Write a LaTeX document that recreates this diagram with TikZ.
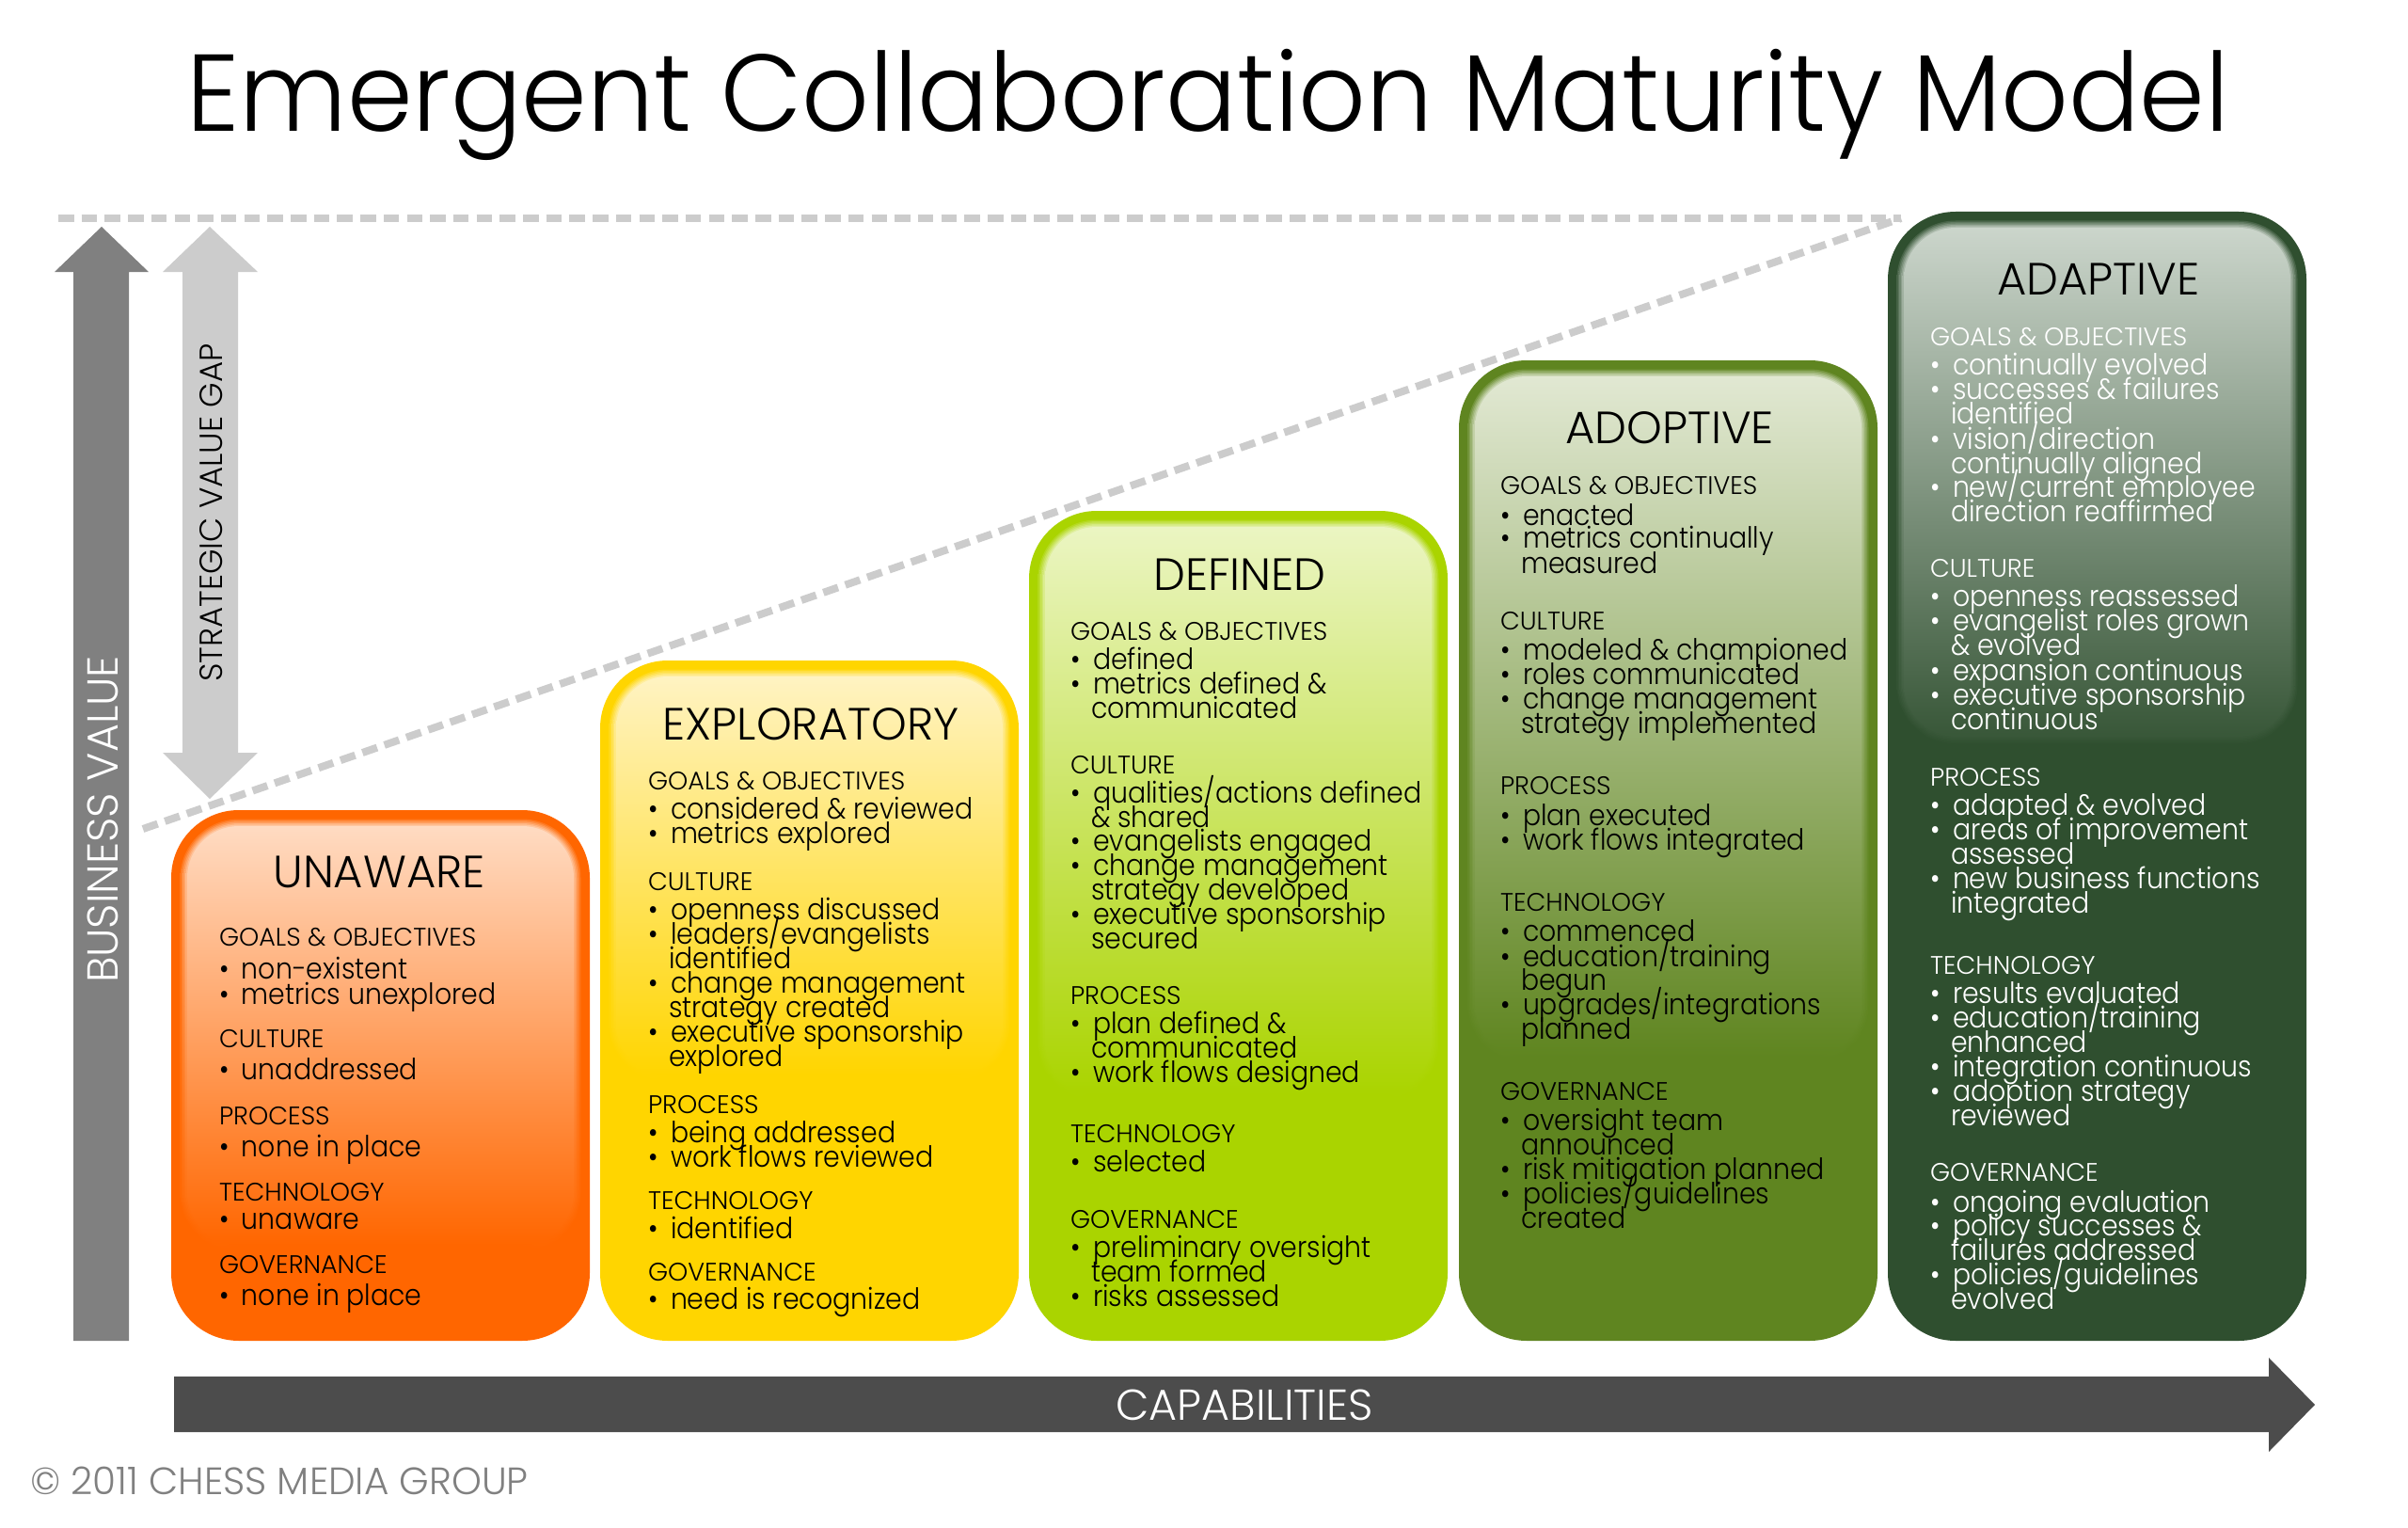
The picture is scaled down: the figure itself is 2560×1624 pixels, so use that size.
\documentclass[tikz,border=0pt]{standalone}
\usepackage{fontspec}
\setmainfont{Poppins}
\newfontfamily\gf{Poppins Light}
\newfontfamily\tf{Poppins Light}[FakeStretch=0.966]
\newfontfamily\bdf{Poppins Light}[FakeStretch=0.915]
\newcounter{ln}
\newcommand\Txt[4]{\stepcounter{ln}\node[#1] (line\arabic{ln}) at (#2,#3) {#4};}
\newcommand\Hd[2]{\Txt{headtxt,text=\tc}{\hx}{#1}{#2}}
\newcommand\Bl[2]{\Txt{bodytxt,text=\tc}{\hx}{#1+1.5}{\makebox[24pt][l]{•}#2}}
\newcommand\Co[2]{\Txt{bodytxt,text=\tc}{\hx}{#1+1.5}{\hspace*{22pt}#2}}
\newcommand\Card[8]{%
  % #1 x1, #2 y1, #3 x2, #4 y2, #5 base, #6 light, #7 gloss bottom, #8 end mix
  \fill[#5,rounded corners=72pt] (#1,#2) rectangle (#3,#4);
  \foreach \i in {1,...,6}{
    \pgfmathsetmacro\ins{8+\i*1.5}
    \pgfmathsetmacro\kk{\i*100/6}
    \pgfmathsetmacro\rr{72-\ins}
    \colorlet{tmpa}{#6!\kk!#5}
    \pgfmathsetmacro\ee{#8*\kk/100}
    \colorlet{tmpb}{#6!\ee!#5}
    \shade[top color=tmpa,bottom color=tmpb,rounded corners=\rr pt]
      (#1+\ins,#2+\ins) rectangle (#3-\ins,#7-\ins);
  }
}
\definecolor{cU}{HTML}{FF6600}\definecolor{lU}{HTML}{FFDBC2}
\definecolor{cE}{HTML}{FFD500}\definecolor{lE}{HTML}{FFF3C2}
\definecolor{cD}{HTML}{AAD400}\definecolor{lD}{HTML}{EBF5C2}
\definecolor{cO}{HTML}{5F8520}\definecolor{lO}{HTML}{E1E8D2}
\definecolor{cA}{HTML}{2F4F2F}\definecolor{lA}{HTML}{CBD5CB}
\definecolor{dashc}{HTML}{CCCCCC}
\begin{document}
\begin{tikzpicture}[x=1pt,y=-1pt,
  headtxt/.style={anchor=base west,inner sep=0pt,outer sep=0pt,font=\gf\fontsize{27}{27}\selectfont},
  bodytxt/.style={anchor=base west,inner sep=0pt,outer sep=0pt,font=\bdf\fontsize{31}{26}\selectfont},
  cardtitle/.style={anchor=base,inner sep=0pt,outer sep=0pt,text=black,font=\gf\fontsize{48}{48}\selectfont},
  dashline/.style={draw=dashc,line width=8pt,dash pattern=on 16.5pt off 8.2pt},
]
\useasboundingbox (0,0) rectangle (2560,1624);
\fill[white] (0,0) rectangle (2560,1624);

\node[anchor=base west,inner sep=0pt,font=\tf\fontsize{116}{116}\selectfont] (title) at (198,140) {Emergent Collaboration Maturity Model};

% arrows
\fill[black!50] (108,241) -- (158,289) -- (137,289) -- (137,1425) -- (78,1425) -- (78,289) -- (58,289) -- cycle;
\fill[dashc] (223,241) -- (274,289) -- (253,289) -- (253,800) -- (274,800) -- (223,849) -- (173,800) -- (194,800) -- (194,289) -- (173,289) -- cycle;
\fill[black!70] (185,1463) -- (2412,1463) -- (2412,1443) -- (2461,1493) -- (2412,1543) -- (2412,1522) -- (185,1522) -- cycle;

\coordinate (dl) at (62,232);
\coordinate (dr) at (2021,232);
\coordinate (ds) at (152,881);
\draw[dashline] (dl) -- (dr);
\draw[dashline] (ds) -- (dr);

\node[anchor=base,inner sep=0pt,rotate=90,text=white,font=\gf\fontsize{46}{46}\selectfont] (bv) at (125,871) {BUSINESS VALUE};
\node[anchor=base,inner sep=0pt,rotate=90,text=black,font=\gf\fontsize{34}{34}\selectfont] (svg) at (236,545) {STRATEGIC VALUE GAP};
\node[anchor=base,inner sep=0pt,text=white,font=\gf\fontsize{46}{46}\selectfont] (cap) at (1323,1509) {CAPABILITIES};
\node[anchor=base west,inner sep=0pt,text=black!50,font=\gf\fontsize{40.5}{40.5}\selectfont] (copy) at (32,1588) {© 2011 CHESS MEDIA GROUP};

% cards
\Card{182}{861}{627}{1425}{cU}{lU}{1340}{0}
\Card{638}{702}{1083}{1425}{cE}{lE}{1160}{0}
\Card{1094}{543}{1539}{1425}{cD}{lD}{1180}{0}
\Card{1551}{383}{1996}{1425}{cO}{lO}{1140}{0}
\Card{2007}{225}{2452}{1425}{cA}{lA}{800}{6}
\node[cardtitle] (unaware) at (403,943) {UNAWARE};
\node[cardtitle] (exploratory) at (862,786) {EXPLORATORY};
\node[cardtitle] (defined) at (1318,627) {DEFINED};
\node[cardtitle] (adoptive) at (1775,471) {ADOPTIVE};
\node[cardtitle] (adaptive) at (2231,313) {ADAPTIVE};

\def\tc{black}
\def\hx{233}
\Hd{1005}{GOALS \& OBJECTIVES}
\Bl{1039}{non-existent}
\Bl{1066}{metrics unexplored}
\Hd{1113}{CULTURE}
\Bl{1146}{unaddressed}
\Hd{1195}{PROCESS}
\Bl{1228}{none in place}
\Hd{1276}{TECHNOLOGY}
\Bl{1305}{unaware}
\Hd{1353}{GOVERNANCE}
\Bl{1386}{none in place}

\def\hx{689}
\Hd{839}{GOALS \& OBJECTIVES}
\Bl{869}{considered \& reviewed}
\Bl{895}{metrics explored}
\Hd{946}{CULTURE}
\Bl{976}{openness discussed}
\Bl{1002}{leaders/evangelists}
\Co{1028}{identified}
\Bl{1054}{change management}
\Co{1080}{strategy created}
\Bl{1106}{executive sponsorship}
\Co{1132}{explored}
\Hd{1183}{PROCESS}
\Bl{1213}{being addressed}
\Bl{1239}{work flows reviewed}
\Hd{1285}{TECHNOLOGY}
\Bl{1315}{identified}
\Hd{1361}{GOVERNANCE}
\Bl{1390}{need is recognized}

\def\hx{1138}
\Hd{680}{GOALS \& OBJECTIVES}
\Bl{710}{defined}
\Bl{736}{metrics defined \&}
\Co{762}{communicated}
\Hd{822}{CULTURE}
\Bl{852}{qualities/actions defined}
\Co{878}{\& shared}
\Bl{903}{evangelists engaged}
\Bl{929}{change management}
\Co{955}{strategy developed}
\Bl{981}{executive sponsorship}
\Co{1007}{secured}
\Hd{1067}{PROCESS}
\Bl{1097}{plan defined \&}
\Co{1123}{communicated}
\Bl{1149}{work flows designed}
\Hd{1214}{TECHNOLOGY}
\Bl{1244}{selected}
\Hd{1305}{GOVERNANCE}
\Bl{1335}{preliminary oversight}
\Co{1361}{team formed}
\Bl{1387}{risks assessed}

\def\hx{1595}
\Hd{525}{GOALS \& OBJECTIVES}
\Bl{557}{enacted}
\Bl{581}{metrics continually}
\Co{608}{measured}
\Hd{669}{CULTURE}
\Bl{700}{modeled \& championed}
\Bl{726}{roles communicated}
\Bl{752}{change management}
\Co{778}{strategy implemented}
\Hd{844}{PROCESS}
\Bl{876}{plan executed}
\Bl{902}{work flows integrated}
\Hd{968}{TECHNOLOGY}
\Bl{999}{commenced}
\Bl{1026}{education/training}
\Co{1051}{begun}
\Bl{1077}{upgrades/integrations}
\Co{1103}{planned}
\Hd{1169}{GOVERNANCE}
\Bl{1200}{oversight team}
\Co{1226}{announced}
\Bl{1252}{risk mitigation planned}
\Bl{1278}{policies/guidelines}
\Co{1304}{created}

\def\tc{white}
\def\hx{2052}
\Hd{367}{GOALS \& OBJECTIVES}
\Bl{397}{continually evolved}
\Bl{423}{successes \& failures}
\Co{449}{identified}
\Bl{476}{vision/direction}
\Co{502}{continually aligned}
\Bl{527}{new/current employee}
\Co{553}{direction reaffirmed}
\Hd{613}{CULTURE}
\Bl{643}{openness reassessed}
\Bl{669}{evangelist roles grown}
\Co{695}{\& evolved}
\Bl{722}{expansion continuous}
\Bl{748}{executive sponsorship}
\Co{774}{continuous}
\Hd{835}{PROCESS}
\Bl{865}{adapted \& evolved}
\Bl{891}{areas of improvement}
\Co{917}{assessed}
\Bl{943}{new business functions}
\Co{969}{integrated}
\Hd{1035}{TECHNOLOGY}
\Bl{1065}{results evaluated}
\Bl{1091}{education/training}
\Co{1117}{enhanced}
\Bl{1143}{integration continuous}
\Bl{1169}{adoption strategy}
\Co{1195}{reviewed}
\Hd{1255}{GOVERNANCE}
\Bl{1287}{ongoing evaluation}
\Bl{1312}{policy successes \&}
\Co{1338}{failures addressed}
\Bl{1364}{policies/guidelines}
\Co{1390}{evolved}
\end{tikzpicture}
\end{document}
